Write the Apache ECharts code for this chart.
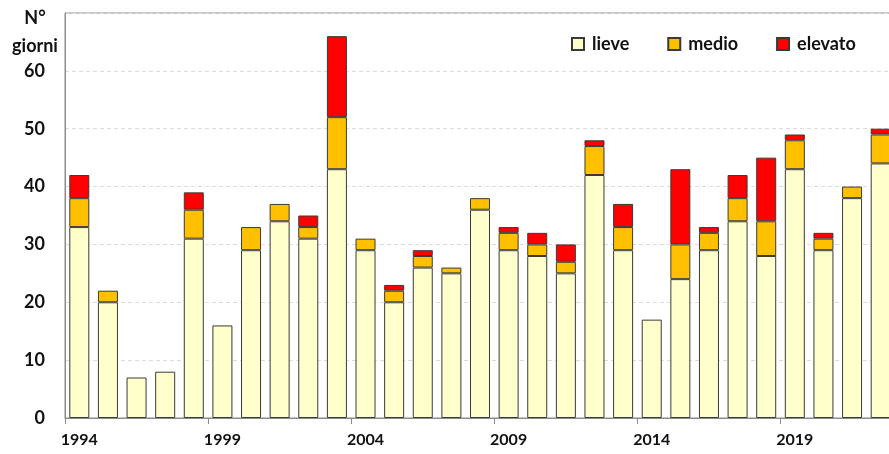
<!DOCTYPE html>
<html>
<head>
<meta charset="utf-8">
<script src="https://cdn.jsdelivr.net/npm/echarts@6/dist/echarts.min.js"></script>
<style>
  html, body { margin: 0; padding: 0; background: #fff; }
  #chart { width: 889px; height: 454px; }
</style>
</head>
<body>
<div id="chart"></div>
<script>
// anni 1994..2022
const years = ['1994', '1995', '1996', '1997', '1998', '1999', '2000', '2001', '2002', '2003',
  '2004', '2005', '2006', '2007', '2008', '2009', '2010', '2011', '2012', '2013',
  '2014', '2015', '2016', '2017', '2018', '2019', '2020', '2021', '2022']

// giorni per livello di disagio
const lieve   = [33, 20, 7, 8, 31, 16, 29, 34, 31, 43, 29, 20, 26, 25, 36, 29, 28, 25, 42, 29, 17, 24, 29, 34, 28, 43, 29, 38, 44]
const medio   = [5, 2, 0, 0, 5, 0, 4, 3, 2, 9, 2, 2, 2, 1, 2, 3, 2, 2, 5, 4, 0, 6, 3, 4, 6, 5, 2, 2, 5]
const elevato = [4, 0, 0, 0, 3, 0, 0, 0, 2, 14, 0, 1, 1, 0, 0, 1, 2, 3, 1, 4, 0, 13, 1, 4, 11, 1, 1, 0, 1]

const FONT = 'Lato'
const barBorder = { borderColor: '#3a3a3a', borderWidth: 1 }

function barSeries(name, data, color) {
  return {
    name,
    type: 'bar',
    stack: 'giorni',
    barWidth: 20,
    itemStyle: Object.assign({ color }, barBorder),
    emphasis: { disabled: true },
    data: data.map(v => (v === 0 ? null : v))
  }
}

const chart = echarts.init(document.getElementById('chart'), null, { renderer: 'canvas' })

chart.setOption({
  backgroundColor: '#fff',
  animation: false,
  textStyle: { fontFamily: FONT },
  grid: {
    left: 65, right: -6, top: 13, bottom: 36,
    outerBoundsMode: 'none',
    show: true, borderColor: '#8c8c8c', borderWidth: 1, backgroundColor: 'transparent'
  },
  legend: {
    left: 566, top: 30,
    itemWidth: 12, itemHeight: 12, itemGap: 38,
    icon: 'rect',
    selectedMode: false,
    textStyle: { fontFamily: FONT, fontWeight: 'bold', fontSize: 18, color: '#111', padding: [0, 0, 0, 3] },
    data: ['lieve', 'medio', 'elevato']
  },
  xAxis: {
    type: 'category',
    data: years,
    boundaryGap: true,
    axisLine: { lineStyle: { color: '#8c8c8c', width: 1 } },
    axisTick: { show: true, interval: 4, length: 6, lineStyle: { color: '#8c8c8c' } },
    axisLabel: {
      interval: 4, margin: 14,
      color: '#111', fontFamily: FONT, fontWeight: 'bold', fontSize: 16
    },
    splitLine: { show: false }
  },
  yAxis: {
    type: 'value',
    min: 0, max: 70, interval: 10,
    name: 'N°\ngiorni',
    nameLocation: 'end',
    nameGap: -47,
    nameTextStyle: {
      color: '#111', fontFamily: FONT, fontWeight: 'bold', fontSize: 18,
      align: 'center', lineHeight: 28, padding: [0, 60, 0, 0]
    },
    axisLine: { show: true, lineStyle: { color: '#8c8c8c', width: 1 } },
    axisTick: { show: false },
    axisLabel: {
      margin: 20,
      color: '#111', fontFamily: FONT, fontWeight: 'bold', fontSize: 18,
      formatter: v => (v === 70 ? '' : v)
    },
    splitLine: { show: true, lineStyle: { color: '#dcdcdc', type: [4, 3], width: 1 } }
  },
  series: [
    barSeries('lieve', lieve, '#ffffcc'),
    barSeries('medio', medio, '#ffc000'),
    barSeries('elevato', elevato, '#ff0000')
  ]
})
</script>
</body>
</html>
